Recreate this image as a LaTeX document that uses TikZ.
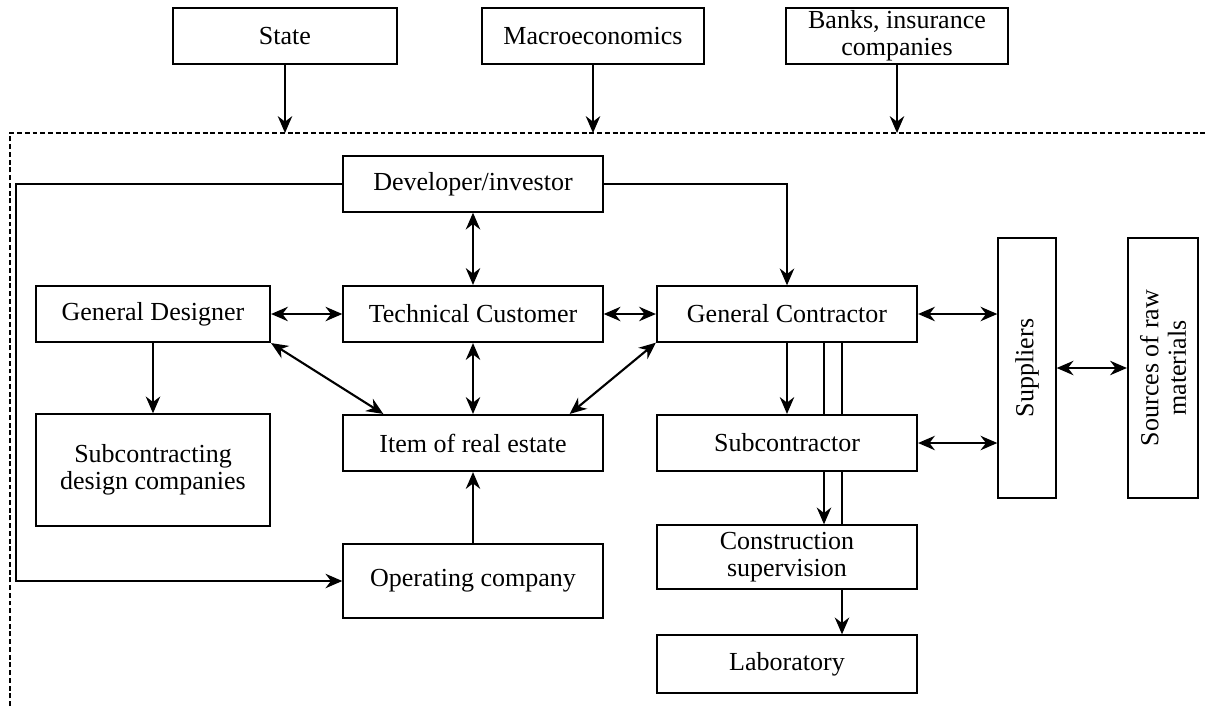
\documentclass[tikz,border=0pt]{standalone}
\usepackage{fontspec}
\setmainfont{Liberation Serif}
\usetikzlibrary{calc,arrows.meta}

\begin{document}
\begin{tikzpicture}[x=0.025cm,y=-0.025cm,
        blk/.style={draw,line width=1.5pt,inner sep=2pt,align=center,
            font=\fontsize{18.5}{19.5}\selectfont},
        lnk/.style={line width=1.5pt},
        >={Stealth[length=4.2mm,width=3.6mm]}]
    \useasboundingbox (0,0) rectangle (1206,706);
    \draw[line width=1.1pt,dash pattern=on 3.5pt off 2pt] (10,706) -- (10,133) -- (1206,133);
    \coordinate (edge) at (0,133);
    % outside
    \node[blk,minimum width=5.6cm,minimum height=1.4cm] (state) at (285,36) {State};
    \node[blk,minimum width=5.55cm,minimum height=1.4cm] (macro) at (593,36) {Macroeconomics};
    \node[blk,minimum width=5.55cm,minimum height=1.4cm] (banks) at (897,36) {Banks, insurance\\companies};
    \foreach \n in {state,macro,banks}
        \draw[lnk,->] (\n.south) -- (\n.south |- edge);
    % participants
    \node[blk,minimum width=6.48cm,minimum height=1.38cm] (dev) at (473,184) {Developer/investor};
    \node[blk,minimum width=6.48cm,minimum height=1.4cm] (tech) at (473,314) {Technical Customer};
    \node[blk,minimum width=5.85cm,minimum height=1.4cm] (gd) at (153,314) {General Designer};
    \node[blk,minimum width=6.5cm,minimum height=1.38cm] (gc) at (787,314) {General Contractor};
    \node[blk,minimum width=5.85cm,minimum height=2.78cm] (subdes) at (153,470) {Subcontracting\\design companies};
    \node[blk,minimum width=6.48cm,minimum height=1.4cm] (item) at (473,443) {Item of real estate};
    \node[blk,minimum width=6.5cm,minimum height=1.4cm] (sub) at (787,443) {Subcontractor};
    \node[blk,minimum width=6.48cm,minimum height=1.83cm] (op) at (473,581) {Operating company};
    \node[blk,minimum width=6.5cm,minimum height=1.58cm] (cs) at (787,557) {Construction\\supervision};
    \node[blk,minimum width=6.5cm,minimum height=1.43cm] (lab) at (787,664) {Laboratory};
    \node[blk,minimum width=1.43cm,minimum height=6.48cm] (sup) at (1027,368) {};
    \node[blk,draw=none,rotate=90] (suptxt) at (sup) {Suppliers};
    \node[blk,minimum width=1.75cm,minimum height=6.48cm] (src) at (1163,368) {};
    \node[blk,draw=none,rotate=90] (srctxt) at (src) {Sources of raw\\materials};

    \draw[lnk,->] (dev.west) -- ++(-326,0) |- (op.west);
    \draw[lnk,->] (dev.east) -| (gc.north);
    \draw[lnk,<->] (dev.south) -- (tech.north);
    \draw[lnk,<->] (gd.east) -- (tech.west);
    \draw[lnk,<->] (tech.east) -- (gc.west);
    \draw[lnk,->] (gd.south) -- (subdes.north);
    \draw[lnk,<->] (gd.south east) -- ($(item.north west)+(41,0)$);
    \draw[lnk,<->] (gc.south west) -- ($(item.north east)+(-34,0)$);
    \draw[lnk,<->] (tech.south) -- (item.north);
    \draw[lnk,->] (op.north) -- (item.south);
    \draw[lnk,->] (gc.south) -- (sub.north);
    \draw[lnk] ($(gc.south)+(37,0)$) coordinate (g1) -- (g1 |- sub.north);
    \draw[lnk] ($(gc.south)+(55,0)$) coordinate (g2) -- (g2 |- sub.north);
    \draw[lnk,->] (g1 |- sub.south) -- (g1 |- cs.north);
    \draw[lnk] (g2 |- sub.south) -- (g2 |- cs.north);
    \draw[lnk,->] (g2 |- cs.south) -- (g2 |- lab.north);
    \draw[lnk,<->] (gc.east) -- (gc.east -| sup.west);
    \draw[lnk,<->] (sub.east) -- (sub.east -| sup.west);
    \draw[lnk,<->] (sup.east) -- (src.west);
\end{tikzpicture}
\end{document}
